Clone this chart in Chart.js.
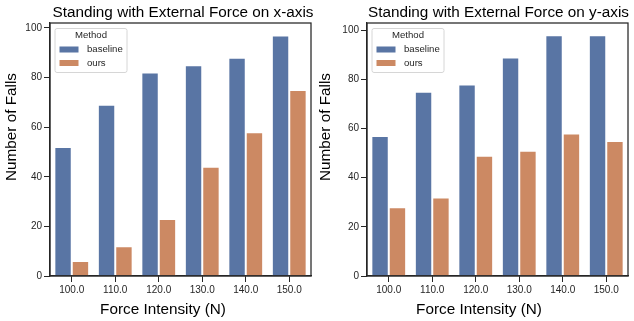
<!DOCTYPE html>
<html>
<head>
<meta charset="utf-8">
<script src="https://cdn.jsdelivr.net/npm/chart.js@4"></script>
<style>
  body { margin: 0; background: #fff; }
  .box { position: absolute; top: 0; width: 317px; height: 321px; }
</style>
</head>
<body>
<div class="box" style="left:0"><canvas id="chartX"></canvas></div>
<div class="box" style="left:317px"><canvas id="chartY"></canvas></div>
<script>
// Force intensity categories (shared by both panels)
const forces = ['100.0', '110.0', '120.0', '130.0', '140.0', '150.0'];

// Panel 1: external force on x-axis
const baselineX = [52, 69, 82, 85, 88, 97];
const oursX = [6, 12, 23, 44, 58, 75];

// Panel 2: external force on y-axis
const baselineY = [57, 75, 78, 89, 98, 98];
const oursY = [28, 32, 49, 51, 58, 55];

const blue = '#5975a4';
const orange = '#cc8963';
const fontFamily = '"Liberation Sans", Arial, sans-serif';
const ink = '#262626';

// draws frame, titles and the in-axes legend
const decorations = {
    id: 'decorations',
    afterDraw(chart, args, opts) {
        const c = chart.ctx;
        const a = chart.chartArea;
        c.save();
        // full box around the axes
        c.strokeStyle = ink;
        c.lineWidth = 1.25;
        c.strokeRect(a.left, a.top, a.right - a.left, a.bottom - a.top);

        c.fillStyle = '#000';
        c.textAlign = 'center';
        c.textBaseline = 'alphabetic';
        c.font = '15.3px ' + fontFamily;
        c.fillText(opts.title, (a.left + a.right) / 2 + opts.titleShift, 17);
        c.fillText('Force Intensity (N)', opts.xTitleX, 314);
        c.save();
        c.translate(opts.yTitleX, 127);
        c.rotate(-Math.PI / 2);
        c.textBaseline = 'middle';
        c.fillText('Number of Falls', 0, 0);
        c.restore();

        // legend
        const lx = a.left + 5, ly = a.top + 5.5, lw = 72, lh = 44;
        c.beginPath();
        c.roundRect(lx, ly, lw, lh, 2);
        c.fillStyle = 'rgba(255,255,255,0.8)';
        c.fill();
        c.strokeStyle = '#d6d6d6';
        c.lineWidth = 1;
        c.stroke();
        c.textBaseline = 'middle';
        c.fillStyle = ink;
        c.font = '9.6px ' + fontFamily;
        c.fillText('Method', lx + 36, ly + 7);
        c.textAlign = 'left';
        chart.data.datasets.forEach((ds, i) => {
            const y = ly + 21 + i * 13.5;
            c.fillStyle = ds.backgroundColor;
            c.fillRect(lx + 4.5, y - 3, 19, 6);
            c.fillStyle = ink;
            c.fillText(ds.label, lx + 32, y);
        });
        c.restore();
    }
};

function makeChart(id, base, ours, opts) {
    return new Chart(document.getElementById(id), {
        type: 'bar',
        data: {
            labels: forces,
            datasets: [
                { label: 'baseline', data: base, backgroundColor: blue },
                { label: 'ours', data: ours, backgroundColor: orange }
            ]
        },
        options: {
            responsive: true,
            maintainAspectRatio: false,
            animation: false,
            layout: { padding: { top: 23, right: 6, left: 0, bottom: 0 } },
            datasets: {
                bar: {
                    categoryPercentage: 0.8,
                    barPercentage: 1.0,
                    borderColor: 'rgba(255,255,255,0.55)',
                    borderWidth: 1
                }
            },
            plugins: {
                legend: { display: false },
                tooltip: { enabled: false },
                decorations: opts
            },
            scales: {
                x: {
                    grid: { offset: false, drawOnChartArea: false, tickLength: 6, color: ink, lineWidth: 1 },
                    border: { display: true, color: ink, width: 1.25 },
                    ticks: { color: ink, font: { size: 10, family: fontFamily }, padding: 2, maxRotation: 0 },
                    afterFit(scale) { scale.height = 45; }
                },
                y: {
                    min: 0,
                    max: opts.yMax,
                    grid: { drawOnChartArea: false, tickLength: 6, color: ink, lineWidth: 1 },
                    border: { display: true, color: ink, width: 1.25 },
                    ticks: { stepSize: 20, includeBounds: false, color: ink, font: { size: 10, family: fontFamily }, padding: 2 },
                    afterFit(scale) { scale.width = 50; }
                }
            }
        },
        plugins: [decorations]
    });
}

makeChart('chartX', baselineX, oursX, {
    title: 'Standing with External Force on x-axis', titleShift: 2.5,
    yMax: 102, yTitleX: 12, xTitleX: 163
});
makeChart('chartY', baselineY, oursY, {
    title: 'Standing with External Force on y-axis', titleShift: 1,
    yMax: 103, yTitleX: 9, xTitleX: 162
});
</script>
</body>
</html>
